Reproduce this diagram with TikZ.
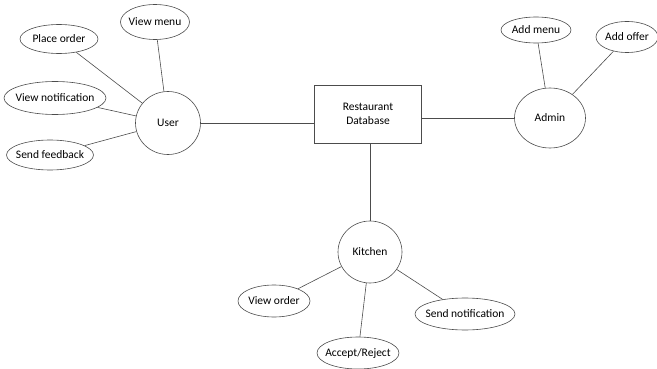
\documentclass[tikz,border=0pt]{standalone}
\usepackage{fontspec}
\setmainfont{Carlito}
\usetikzlibrary{shapes.geometric}
\begin{document}
\begin{tikzpicture}[x=1pt,y=-1pt,
  every node/.style={font=\fontsize{11.5}{13.5}\selectfont, text=black},
  oval/.style={ellipse, draw=black!70, line width=0.6pt, inner xsep=-10pt, inner ysep=-2pt},
  actor/.style={ellipse, draw=black!70, line width=0.6pt, inner sep=0pt},
  dbbox/.style={rectangle, draw=black!70, line width=0.6pt, align=center},
  link/.style={draw=black!70, line width=0.6pt}]
\useasboundingbox (0,0) rectangle (657,369);
% central
\node[dbbox, minimum width=107pt, minimum height=58pt] (db) at (368,114) {Restaurant\\Database};
% actors
\node[actor, minimum width=65pt, minimum height=63pt] (user) at (168,123) {User};
\node[actor, minimum width=71pt, minimum height=60pt] (admin) at (550,118) {Admin};
\node[actor, minimum width=64pt, minimum height=62pt] (kitchen) at (370,252) {Kitchen};
% user use cases
\node[oval, minimum width=69pt, minimum height=35pt] (viewmenu) at (155,22) {View menu};
\node[oval, minimum width=78pt, minimum height=29pt] (placeorder) at (59,39) {Place order};
\node[oval, minimum width=102pt, minimum height=33pt] (viewnotif) at (55,98) {View notification};
\node[oval, minimum width=87pt, minimum height=30pt] (feedback) at (50,155) {Send feedback};
% admin use cases
\node[oval, minimum width=70pt, minimum height=26pt] (addmenu) at (536,30) {Add menu};
\node[oval, minimum width=62pt, minimum height=31pt] (addoffer) at (627,37) {Add offer};
% kitchen use cases
\node[oval, minimum width=72pt, minimum height=32pt] (vieworder) at (274,301) {View order};
\node[oval, minimum width=82pt, minimum height=32pt] (accept) at (358,353) {Accept/Reject};
\node[oval, minimum width=100pt, minimum height=32pt] (sendnotif) at (465,314) {Send notification};
% connectors
\draw[link] (user.east) -- (user.east -| db.west);
\draw[link] (db.east |- admin.west) -- (admin.west);
\draw[link] (db.south -| kitchen.north) -- (kitchen.north);
\draw[link] (viewmenu) -- (user);
\draw[link] (placeorder) -- (user);
\draw[link] (viewnotif) -- (user);
\draw[link] (feedback) -- (user);
\draw[link] (addmenu) -- (admin);
\draw[link] (addoffer) -- (admin);
\draw[link] (kitchen) -- (vieworder);
\draw[link] (kitchen) -- (accept);
\draw[link] (kitchen) -- (sendnotif);
\end{tikzpicture}
\end{document}
